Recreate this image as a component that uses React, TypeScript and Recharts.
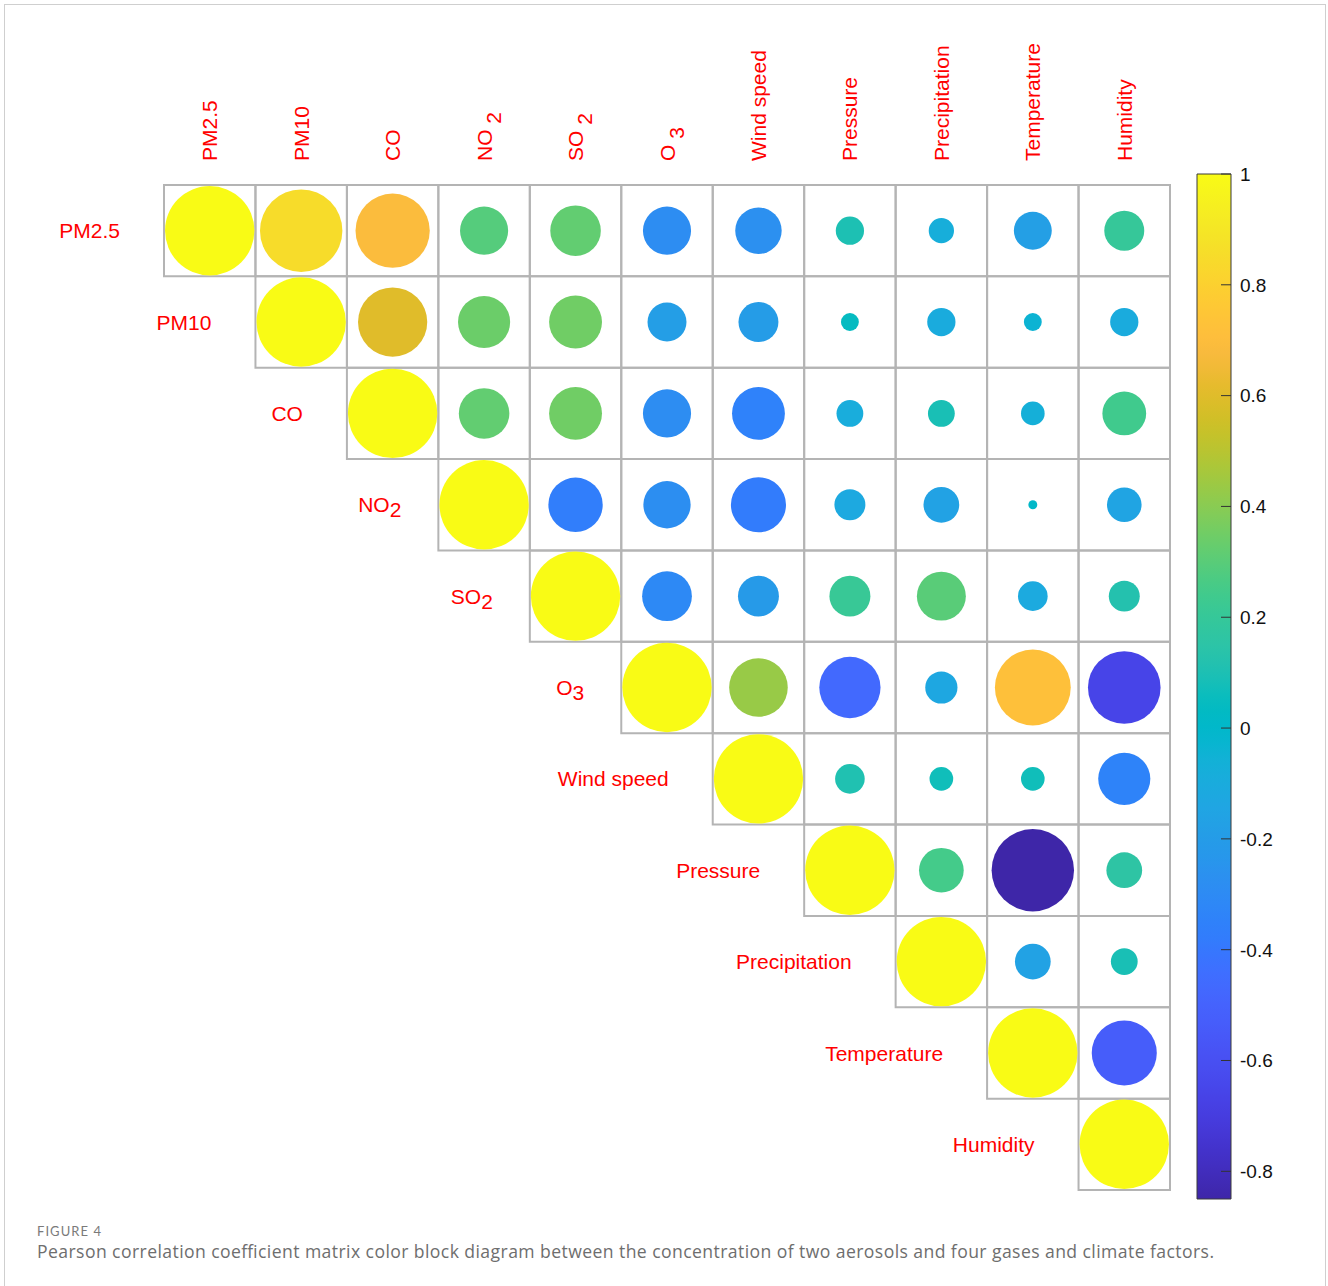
import React from 'react';
import {
  ScatterChart,
  Scatter,
  XAxis,
  YAxis,
  ZAxis,
  Cell,
  ReferenceArea,
  BarChart,
  Bar,
} from 'recharts';

// Variable names (base text) and their chemical subscripts
const variables = [
  'PM2.5',
  'PM10',
  'CO',
  'NO',
  'SO',
  'O',
  'Wind speed',
  'Pressure',
  'Precipitation',
  'Temperature',
  'Humidity',
];
const subscripts = ['', '', '', '2', '2', '3', '', '', '', '', ''];

// Upper-triangle Pearson coefficients; each row lists the columns right of the diagonal
const rowPM25 = [0.85, 0.69, 0.29, 0.32, -0.29, -0.27, 0.1, -0.08, -0.18, 0.2];
const rowPM10 = [0.6, 0.34, 0.35, -0.19, -0.2, 0.04, -0.1, -0.04, -0.1];
const rowCO = [0.32, 0.35, -0.29, -0.35, -0.09, 0.09, -0.07, 0.24];
const rowNO2 = [-0.37, -0.28, -0.38, -0.12, -0.16, 0.01, -0.15];
const rowSO2 = [-0.31, -0.21, 0.21, 0.3, -0.11, 0.12];
const rowO3 = [0.43, -0.47, -0.13, 0.72, -0.66];
const rowWindSpeed = [0.11, 0.07, 0.07, -0.34];
const rowPressure = [0.25, -0.85, 0.16];
const rowPrecipitation = [-0.16, 0.09];
const rowTemperature = [-0.53];
const rowHumidity: number[] = [];

const correlationRows = [
  rowPM25,
  rowPM10,
  rowCO,
  rowNO2,
  rowSO2,
  rowO3,
  rowWindSpeed,
  rowPressure,
  rowPrecipitation,
  rowTemperature,
  rowHumidity,
];

// Colour scale limits and colorbar ticks
const colorLimits = [-0.85, 1];
const colorbarTicks = [1, 0.8, 0.6, 0.4, 0.2, 0, -0.2, -0.4, -0.6, -0.8];

const captionLabel = 'FIGURE 4';
const captionText =
  'Pearson correlation coefficient matrix color block diagram between the concentration of two aerosols and four gases and climate factors.';

// MATLAB parula, 64 levels
const PARULA: number[][] = [
  [0.2422, 0.1504, 0.6603], [0.2504, 0.165, 0.7076], [0.2578, 0.1818, 0.7511], [0.2647, 0.1978, 0.7952],
  [0.2706, 0.2147, 0.8364], [0.2751, 0.2342, 0.871], [0.2783, 0.2559, 0.8991], [0.2803, 0.2782, 0.9221],
  [0.2813, 0.3006, 0.9414], [0.281, 0.3228, 0.9579], [0.2795, 0.3447, 0.9717], [0.276, 0.3667, 0.9829],
  [0.2699, 0.3892, 0.9906], [0.2602, 0.4123, 0.9952], [0.244, 0.4358, 0.9988], [0.2206, 0.4603, 0.9973],
  [0.1963, 0.4847, 0.9892], [0.1834, 0.5074, 0.9798], [0.1786, 0.5289, 0.9682], [0.1764, 0.5499, 0.952],
  [0.1687, 0.5703, 0.9359], [0.154, 0.5902, 0.9218], [0.146, 0.6091, 0.9079], [0.138, 0.6276, 0.8973],
  [0.1248, 0.6459, 0.8883], [0.1113, 0.6635, 0.8763], [0.0952, 0.6798, 0.8598], [0.0689, 0.6948, 0.8394],
  [0.0297, 0.7082, 0.8163], [0.0036, 0.7203, 0.7917], [0.0067, 0.7312, 0.766], [0.0433, 0.7411, 0.7394],
  [0.0964, 0.75, 0.712], [0.1408, 0.7584, 0.6842], [0.1717, 0.767, 0.6554], [0.1938, 0.7758, 0.6251],
  [0.2161, 0.7843, 0.5923], [0.247, 0.7918, 0.5567], [0.2906, 0.7973, 0.5188], [0.3406, 0.8008, 0.4789],
  [0.3909, 0.8029, 0.4354], [0.4456, 0.8024, 0.3909], [0.5044, 0.7993, 0.348], [0.5616, 0.7942, 0.3045],
  [0.6174, 0.7876, 0.2612], [0.672, 0.7793, 0.2227], [0.7242, 0.7698, 0.191], [0.7738, 0.7598, 0.1646],
  [0.8203, 0.7498, 0.1535], [0.8634, 0.7406, 0.1596], [0.9035, 0.733, 0.1774], [0.9393, 0.7288, 0.21],
  [0.9728, 0.7298, 0.2394], [0.9956, 0.7434, 0.2371], [0.997, 0.7659, 0.2199], [0.9952, 0.7893, 0.2028],
  [0.9892, 0.8136, 0.1885], [0.9786, 0.8386, 0.1766], [0.9676, 0.8639, 0.1643], [0.961, 0.889, 0.1537],
  [0.9597, 0.9135, 0.1423], [0.9628, 0.9373, 0.1265], [0.9691, 0.9606, 0.1064], [0.9769, 0.9839, 0.0805],
];

const toHex = (c: number[]) =>
  '#' + c.map((v) => Math.round(Math.max(0, Math.min(1, v)) * 255).toString(16).padStart(2, '0')).join('');

function parula(value: number): string {
  const [lo, hi] = colorLimits;
  const t = Math.max(0, Math.min(1, (value - lo) / (hi - lo))) * (PARULA.length - 1);
  const i = Math.floor(t);
  const f = t - i;
  const a = PARULA[i];
  const b = PARULA[Math.min(i + 1, PARULA.length - 1)];
  return toHex([0, 1, 2].map((k) => a[k] + (b[k] - a[k]) * f));
}

// Flattened cells of the upper triangle (diagonal = 1)
type CellPoint = { x: number; y: number; r: number; absR: number; row: number; col: number };
const cellPoints: CellPoint[] = [];
correlationRows.forEach((vals, i) => {
  cellPoints.push({ x: i + 0.5, y: i + 0.5, r: 1, absR: 1, row: i, col: i });
  vals.forEach((r, k) => {
    const j = i + 1 + k;
    cellPoints.push({ x: j + 0.5, y: i + 0.5, r, absR: Math.abs(r), row: i, col: j });
  });
});

const rowLabelPoints = variables.map((_, i) => ({ x: i, y: i + 0.5, absR: 0, idx: i }));

const LABEL_FONT = '"Liberation Sans", Arial, Helvetica, sans-serif';
const LABEL_RED = '#ff0000';
const CELL_SIDE = 91.4;
const MAX_AREA = (Math.PI / 4) * (CELL_SIDE * 0.978) ** 2;

const TopTick = (props: any) => {
  const { x, y, payload } = props;
  const idx = Math.floor(payload.value);
  const sub = subscripts[idx];
  return (
    <g transform={`translate(${x},${y - 24}) rotate(-90)`}>
      <text x={0} y={0} dy="0.36em" fill={LABEL_RED} fontSize={21} fontFamily={LABEL_FONT} textAnchor="start">
        {variables[idx]}
        {sub ? <tspan dy={9}>{' ' + sub}</tspan> : null}
      </text>
    </g>
  );
};

const RowLabel = (props: any) => {
  const { cx, cy, payload } = props;
  const idx = payload.idx;
  const sub = subscripts[idx];
  // labels carrying a subscript sit a little closer to their diagonal cell
  const gap = sub ? 37 : 44;
  return (
    <text
      x={cx - gap}
      y={cy}
      dy="0.36em"
      fill={LABEL_RED}
      fontSize={21}
      fontFamily={LABEL_FONT}
      textAnchor="end"
    >
      {variables[idx]}
      {sub ? <tspan dy={5}>{sub}</tspan> : null}
    </text>
  );
};

const ColorbarTick = (props: any) => {
  const { x, y, payload } = props;
  const v = payload.value;
  return (
    <g>
      <line x1={x - 10} x2={x} y1={y} y2={y} stroke="#333" strokeWidth={1} />
      <text x={x + 9} y={y} dy="0.36em" fill="#111" fontSize={19} fontFamily={LABEL_FONT}>
        {String(Math.round(v * 10) / 10)}
      </text>
    </g>
  );
};

const colorbarData = [{ name: 'r', span: [colorLimits[0], colorLimits[1]] }];

export default function App() {
  const cols = variables.map((_, j) => j + 0.5);
  return (
    <div>
      <div
        style={{
          position: 'absolute',
          left: 4,
          top: 4,
          width: 1322,
          height: 1282,
          boxSizing: 'border-box',
          borderTop: '1px solid #cfcfcf',
          borderLeft: '1px solid #cfcfcf',
          borderRight: '1px solid #cfcfcf',
        }}
      />
      <div style={{ position: 'absolute', left: 0, top: 0 }}>
        <ScatterChart
          width={1320}
          height={1280}
          margin={{ top: 25, left: 164, right: 150, bottom: 90 }}
        >
          <XAxis
            type="number"
            dataKey="x"
            domain={[0, 11]}
            orientation="top"
            height={160}
            ticks={cols}
            interval={0}
            axisLine={false}
            tickLine={false}
            tickSize={0}
            tickMargin={0}
            tick={<TopTick />}
          />
          <YAxis type="number" dataKey="y" domain={[0, 11]} reversed hide />
          <ZAxis type="number" dataKey="absR" domain={[0, 1]} range={[0, MAX_AREA]} />
          {cellPoints.map((p) => (
            <ReferenceArea
              key={`g-${p.row}-${p.col}`}
              x1={p.col}
              x2={p.col + 1}
              y1={p.row}
              y2={p.row + 1}
              fill="none"
              fillOpacity={0}
              stroke="#b4b4b4"
              strokeWidth={2}
              ifOverflow="visible"
            />
          ))}
          <Scatter data={cellPoints} shape="circle" isAnimationActive={false}>
            {cellPoints.map((p, k) => (
              <Cell key={k} fill={parula(p.r)} />
            ))}
          </Scatter>
          <Scatter data={rowLabelPoints} shape={<RowLabel />} isAnimationActive={false} />
        </ScatterChart>
      </div>
      <div style={{ position: 'absolute', left: 1190, top: 160 }}>
        <BarChart
          width={130}
          height={1060}
          data={colorbarData}
          margin={{ top: 14, right: 0, bottom: 21, left: 7 }}
          barCategoryGap={0}
        >
          <defs>
            <linearGradient id="parulaBar" x1="0" y1="1" x2="0" y2="0">
              {PARULA.map((c, k) => (
                <stop key={k} offset={k / (PARULA.length - 1)} stopColor={toHex(c)} />
              ))}
            </linearGradient>
          </defs>
          <XAxis dataKey="name" type="category" hide />
          <YAxis
            orientation="right"
            type="number"
            domain={colorLimits}
            ticks={colorbarTicks}
            interval={0}
            width={89}
            axisLine={false}
            tickLine={false}
            tickSize={0}
            tickMargin={0}
            tick={<ColorbarTick />}
          />
          <Bar dataKey="span" fill="url(#parulaBar)" stroke="#3a3a3a" strokeWidth={1} isAnimationActive={false} />
        </BarChart>
      </div>
      <svg
        width={1300}
        height={52}
        style={{ position: 'absolute', left: 0, top: 1222 }}
      >
        <text
          x={37}
          y={14}
          fontFamily='Lato, "Open Sans", sans-serif'
          fontSize={13}
          fill="#7a7a7a"
          textLength={64}
          lengthAdjust="spacing"
        >
          {captionLabel}
        </text>
        <text
          x={37}
          y={36}
          fontFamily='"Open Sans", Lato, sans-serif'
          fontSize={17.6}
          fill="#6e6e6e"
          textLength={1177}
          lengthAdjust="spacing"
        >
          {captionText}
        </text>
      </svg>
    </div>
  );
}
